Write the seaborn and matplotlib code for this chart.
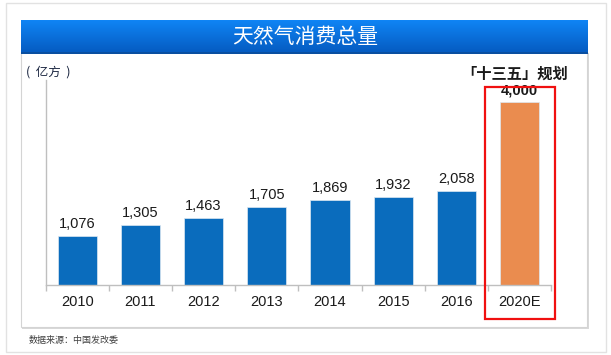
import matplotlib
matplotlib.use("Agg")
import matplotlib.pyplot as plt
import seaborn as sns
import numpy as np
import pandas as pd
from matplotlib.patches import Rectangle
from matplotlib.ticker import FixedLocator

# ---- data ----
categories = ["2010", "2011", "2012", "2013", "2014", "2015", "2016", "2020E"]
values = [1076, 1305, 1463, 1705, 1869, 1932, 2058, 4000]
value_labels = ["1,076", "1,305", "1,463", "1,705", "1,869", "1,932", "2,058", "4,000"]
bar_colors = ["#0A6CBD"] * 7 + ["#EA8C4F"]

title = "天然气消费总量"
unit_label = "(  亿方  )"
plan_label = "「十三五」规划"
source_label = "数据来源：中国发改委"

W, H = 611, 355
CJK = ["Noto Sans CJK SC", "DejaVu Sans"]
LAT = ["Liberation Sans", "DejaVu Sans"]

sns.set_theme(style="white")
plt.rcParams["font.family"] = LAT

fig = plt.figure(figsize=(W / 100, H / 100), dpi=100)
fig.patch.set_facecolor("white")

# background layer in pixel coordinates
bg = fig.add_axes([0, 0, 1, 1], zorder=0)
bg.set_xlim(0, W)
bg.set_ylim(H, 0)
bg.axis("off")

# outer frame
bg.add_patch(Rectangle((6, 3), 600, 349, fill=False, edgecolor="#E2E2E2", lw=1))
# inner panel with soft shadow
bg.add_patch(Rectangle((22, 53), 567, 276, facecolor="#D9D9D9", edgecolor="none"))
bg.add_patch(Rectangle((21, 52), 566, 275, facecolor="white", edgecolor="#D4D4D4", lw=0.8))

# title banner gradient
top_c = np.array([0.06, 0.52, 0.96])
bot_c = np.array([0.02, 0.36, 0.76])
t = np.linspace(0, 1, 64)[:, None, None]
grad = top_c * (1 - t) + bot_c * t
bg.imshow(grad, extent=[21, 588, 52, 20], aspect="auto", interpolation="bilinear", zorder=2)
bg.add_patch(Rectangle((21, 52), 567, 1.5, facecolor="#0A4FA0", edgecolor="none", zorder=3))
bg.text(305, 37, title, color="white", fontsize=15, fontweight="medium", ha="center",
        va="center", family=CJK, zorder=4)

bg.text(26, 72, unit_label, fontsize=9, style="italic", color="#1F2A44",
        ha="left", va="center", family=CJK)
bg.text(515, 74, plan_label, fontsize=11, fontweight="bold", color="#1A1A1A",
        ha="center", va="center", family=CJK)
bg.text(29, 341, source_label, fontsize=6.5, color="#404040", ha="left",
        va="center", family=CJK)

# ---- chart ----
x0, x1 = 45.7, 551
yb, yt = 285, 80
ax = fig.add_axes([x0 / W, (H - yb) / H, (x1 - x0) / W, (yb - yt) / H], zorder=1)
ax.set_facecolor("none")

df = pd.DataFrame({"year": categories, "value": values})
sns.barplot(data=df, x="year", y="value", hue="year", palette=bar_colors,
            legend=False, width=0.62, saturation=1, ax=ax,
            edgecolor="#DDE8F2", linewidth=0.5)

ax.set_xlim(-0.5, len(categories) - 0.5)
ymax = (yb - yt) / (182.7 / 4000)
ax.set_ylim(0, ymax)

for i, (v, lab) in enumerate(zip(values, value_labels)):
    bold = categories[i] == "2020E"
    ax.text(i, v + 110, lab, ha="center", va="bottom", fontsize=10.5,
            fontweight="bold" if bold else "normal", color="#1A1A1A")

for s in ["top", "right"]:
    ax.spines[s].set_visible(False)
for s in ["left", "bottom"]:
    ax.spines[s].set_color("#BFBFBF")
    ax.spines[s].set_linewidth(1)

ax.set_xlabel("")
ax.set_ylabel("")
ax.set_yticks([])
ax.tick_params(axis="x", which="major", length=0, pad=7, labelsize=10.5,
               labelcolor="#1A1A1A")
ax.xaxis.set_minor_locator(FixedLocator(np.arange(-0.5, len(categories), 1.0)))
ax.tick_params(axis="x", which="minor", length=4, width=1, color="#BFBFBF",
               direction="out", bottom=True)

# red highlight box
fig.add_artist(Rectangle((485 / W, 1 - 319 / H), 70 / W, 232 / H,
                         transform=fig.transFigure, fill=False,
                         edgecolor="#F01010", lw=1.6, zorder=5))

fig.savefig("out.png", dpi=100)
